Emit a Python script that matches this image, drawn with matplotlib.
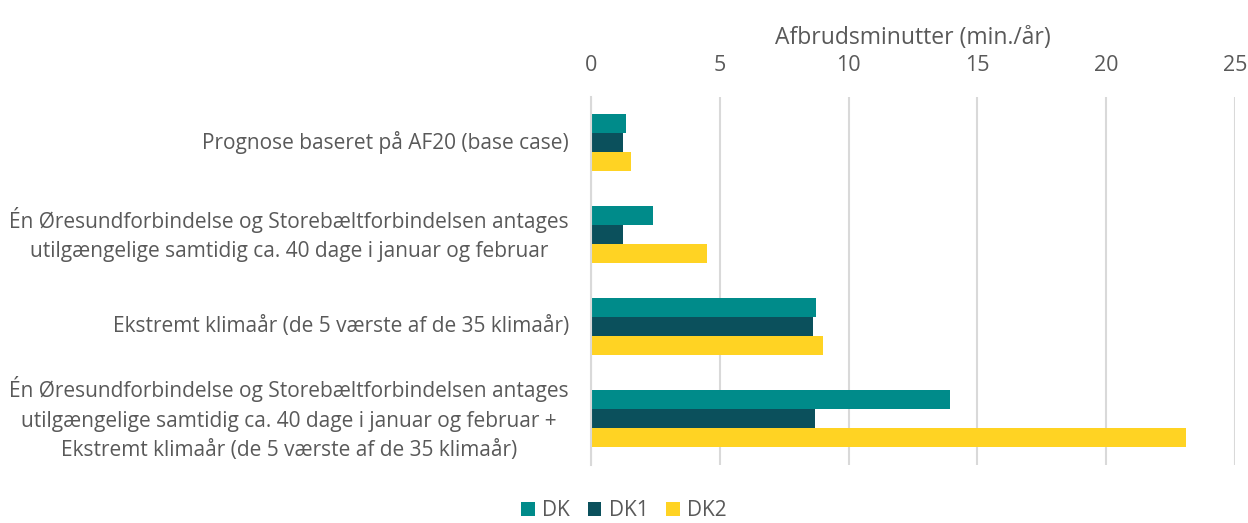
import matplotlib.pyplot as plt
import numpy as np

categories = [
    'Prognose baseret på AF20 (base case)',
    'Én Øresundforbindelse og Storebæltforbindelsen antages\nutilgængelige samtidig ca. 40 dage i januar og februar',
    'Ekstremt klimaår (de 5 værste af de 35 klimaår)',
    'Én Øresundforbindelse og Storebæltforbindelsen antages\nutilgængelige samtidig ca. 40 dage i januar og februar +\nEkstremt klimaår (de 5 værste af de 35 klimaår)',
]
dk = [1.35, 2.42, 8.75, 13.94]
dk1 = [1.23, 1.23, 8.6, 8.71]
dk2 = [1.54, 4.49, 9.0, 23.08]
series_names = ['DK', 'DK1', 'DK2']
colors = ['#008B8A', '#0B505C', '#FFD323']
xticks = [0, 5, 10, 15, 20, 25]

plt.rcParams['font.family'] = ['Open Sans', 'DejaVu Sans']
txt = '#595959'

fig = plt.figure(figsize=(12.48, 5.23), dpi=100)
ax = fig.add_axes([591/1248, 1 - 464.5/523, (1235-591)/1248, (464.5-96.5)/523])

y = np.arange(len(categories))
h = 0.207
for i, (vals, name, c) in enumerate(zip([dk, dk1, dk2], series_names, colors)):
    ax.barh(y + (i - 1) * h, vals, height=h, color=c, label=name, zorder=3)

ax.set_ylim(3.5, -0.5)
ax.set_xlim(0, 25)
ax.set_xticks(xticks)
ax.xaxis.tick_top()
ax.xaxis.set_label_position('top')
ax.set_xlabel('Afbrudsminutter (min./år)', fontsize=16.5, color=txt, labelpad=8)
ax.tick_params(axis='x', length=0, labelsize=15.5, labelcolor=txt, pad=15)
ax.set_yticks(y)
ax.set_yticklabels(categories, fontsize=15, color=txt, multialignment='center',
                   linespacing=1.55, va='center')
ax.tick_params(axis='y', length=0, pad=16)
ax.grid(axis='x', color='#D9D9D9', linewidth=1.5, zorder=0)
for s in ['top', 'right', 'bottom']:
    ax.spines[s].set_visible(False)
ax.spines['left'].set_color('#D9D9D9')
ax.spines['left'].set_linewidth(1.5)
ax.spines['left'].set_zorder(4)

fig.legend(loc='center', bbox_to_anchor=(0.5, 1 - 511/523), ncol=3, frameon=False,
           fontsize=15, labelcolor=txt, handlelength=0.65, handleheight=0.65,
           handletextpad=0.35, columnspacing=0.85)

plt.savefig('out.png', dpi=100)
